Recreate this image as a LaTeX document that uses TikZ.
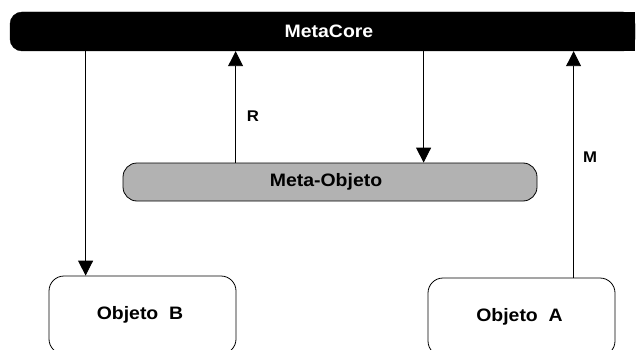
\documentclass[tikz,border=0pt]{standalone}
\usepackage{fontspec}
\setmainfont{Liberation Sans}[FakeStretch=1.08]
\usetikzlibrary{arrows.meta,backgrounds}
\begin{document}
\begin{tikzpicture}[x=1pt,y=-1pt,
  boxtext/.style={font=\fontsize{18}{21}\selectfont\bfseries},
  corebar/.style={fill=black,draw=black,rounded corners=12pt,minimum width=625pt,minimum height=39pt,inner sep=0pt,text=white,boxtext},
  metabox/.style={fill=black!30,draw=black,line width=0.8pt,rounded corners=14pt,minimum width=414pt,minimum height=38pt,inner sep=0pt,boxtext},
  objbox/.style={fill=white,draw=black,line width=0.8pt,rounded corners=15pt,minimum width=187pt,minimum height=78pt,inner sep=0pt,boxtext},
  arr/.style={line width=0.9pt,-{Triangle[width=15pt,length=15pt]}},
  lbl/.style={font=\fontsize{15.5}{18}\selectfont\bfseries,inner sep=0pt}
]
\clip (0,0) rectangle (639,350);
\useasboundingbox (0,0) rectangle (639,350);

% main bus and the middle object
\node[corebar] (core) at (322.5,31.5) {\hspace{13pt}MetaCore};
\begin{scope}[on background layer]
  \fill[black] (core.north) rectangle (core.south east);
\end{scope}
\node[metabox] (meta) at (330,182) {\hspace{-8pt}Meta-Objeto};

% the two objects at the bottom
\node[objbox] (objB) at (142.5,315) {\hspace{-5pt}Objeto\ \ B};
\node[objbox] (objA) at (521.5,317) {\hspace{-4pt}Objeto\ \ A};

% attachment points on the boxes
\coordinate (bIn)  at ([xshift=37pt]objB.north west);
\coordinate (rOut) at ([xshift=113pt]meta.north west);
\coordinate (mIn)  at ([xshift=301pt]meta.north west);
\coordinate (aOut) at ([xshift=146pt]objA.north west);

% connectors
\draw[arr] (core.south -| bIn) -- (bIn);
\draw[arr] (rOut) -- (core.south -| rOut);
\draw[arr] (core.south -| mIn) -- (mIn);
\draw[arr] (aOut) -- (core.south -| aOut);

% labels
\node[lbl] (rl) at (253,116) {R};
\node[lbl] (ml) at (590,157) {M};
\end{tikzpicture}
\end{document}
